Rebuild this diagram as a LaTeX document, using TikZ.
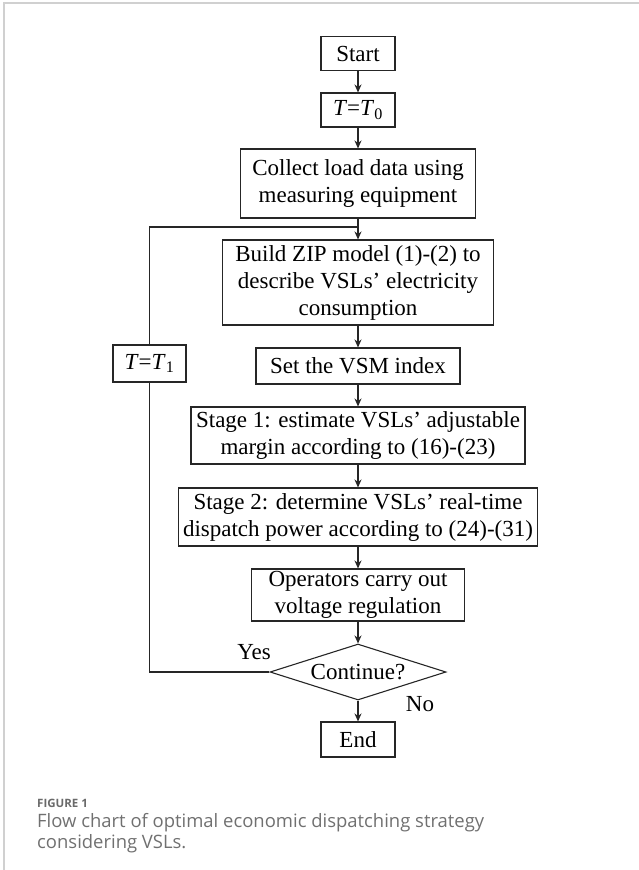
\documentclass[tikz,border=0pt]{standalone}
\usepackage{fontspec}
\setmainfont{Liberation Serif}
\newfontfamily\capfont{Open Sans}
\usetikzlibrary{shapes.geometric,arrows.meta}
\definecolor{framegray}{HTML}{D0D0D0}
\definecolor{capgray}{HTML}{707070}
\definecolor{figgray}{HTML}{6A6A6A}
\tikzset{
  box/.style={draw=black!85, line width=1.1pt, inner sep=0pt, align=center,
    font=\fontsize{23}{27}\selectfont},
  arr/.style={line width=1.1pt, draw=black!85, -{Stealth[length=8pt,width=7pt]}},
  link/.style={line width=1.1pt, draw=black!85},
  lbl/.style={inner sep=0pt, font=\fontsize{23}{27}\selectfont},
}
\begin{document}
\begin{tikzpicture}[x=1pt,y=-1pt]
\useasboundingbox (0,0) rectangle (639,870);
% frame
\draw[framegray, line width=2pt] (4,870) -- (4,3) -- (639,3);
% nodes
\node[box, minimum width=74, minimum height=34] (start) at (358,53.5) {Start};
\node[box, minimum width=74, minimum height=34] (t0) at (358,110) {\textit{T}=\textit{T}\textsubscript{0}};
\node[box, minimum width=235, minimum height=69] (collect) at (358,183.5) {Collect load data using\\measuring equipment};
\node[box, minimum width=271, minimum height=85] (build) at (358,282.5) {Build ZIP model (1)-(2) to\\describe VSLs’ electricity\\consumption};
\node[box, minimum width=73, minimum height=37] (t1) at (149.5,363.5) {\textit{T}=\textit{T}\textsubscript{1}};
\node[box, minimum width=204, minimum height=36] (vsm) at (358,366) {Set the VSM index};
\node[box, minimum width=334, minimum height=57] (s1) at (358,435.5) {Stage 1: estimate VSLs’ adjustable\\margin according to (16)-(23)};
\node[box, minimum width=359, minimum height=58] (s2) at (358,517) {Stage 2: determine VSLs’ real-time\\dispatch power according to (24)-(31)};
\node[box, minimum width=213, minimum height=52] (op) at (358,595) {Operators carry out\\voltage regulation};
\node[box, shape=diamond, aspect=3.14, minimum width=176, minimum height=56] (cont) at (358,672) {Continue?};
\node[box, minimum width=74, minimum height=35] (end) at (358,739.5) {End};
\node[lbl] (yes) at (254,652) {Yes};
\node[lbl] (no) at (420,704) {No};
\coordinate (join) at (358,227);
% connectors
\draw[arr] (start) -- (t0);
\draw[arr] (t0) -- (collect);
\draw[arr] (collect) -- (build);
\draw[arr] (build) -- (vsm);
\draw[arr] (vsm) -- (s1);
\draw[arr] (s1) -- (s2);
\draw[arr] (s2) -- (op);
\draw[arr] (op) -- (cont);
\draw[arr] (cont) -- (end);
\draw[link] (cont.west) -| (t1.south);
\draw[link] (t1.north) |- (join);
% caption
\node[anchor=base west, inner sep=0pt, text=figgray, font=\capfont\bfseries\fontsize{11.5}{14}\selectfont] (figlbl) at (37,807) {FIGURE 1};
\node[anchor=base west, inner sep=0pt, text=capgray, font=\capfont\fontsize{18.45}{21}\selectfont] (cap1) at (37,827) {Flow chart of optimal economic dispatching strategy};
\node[anchor=base west, inner sep=0pt, text=capgray, font=\capfont\fontsize{18.45}{21}\selectfont] (cap2) at (37,848) {considering VSLs.};
\end{tikzpicture}
\end{document}
